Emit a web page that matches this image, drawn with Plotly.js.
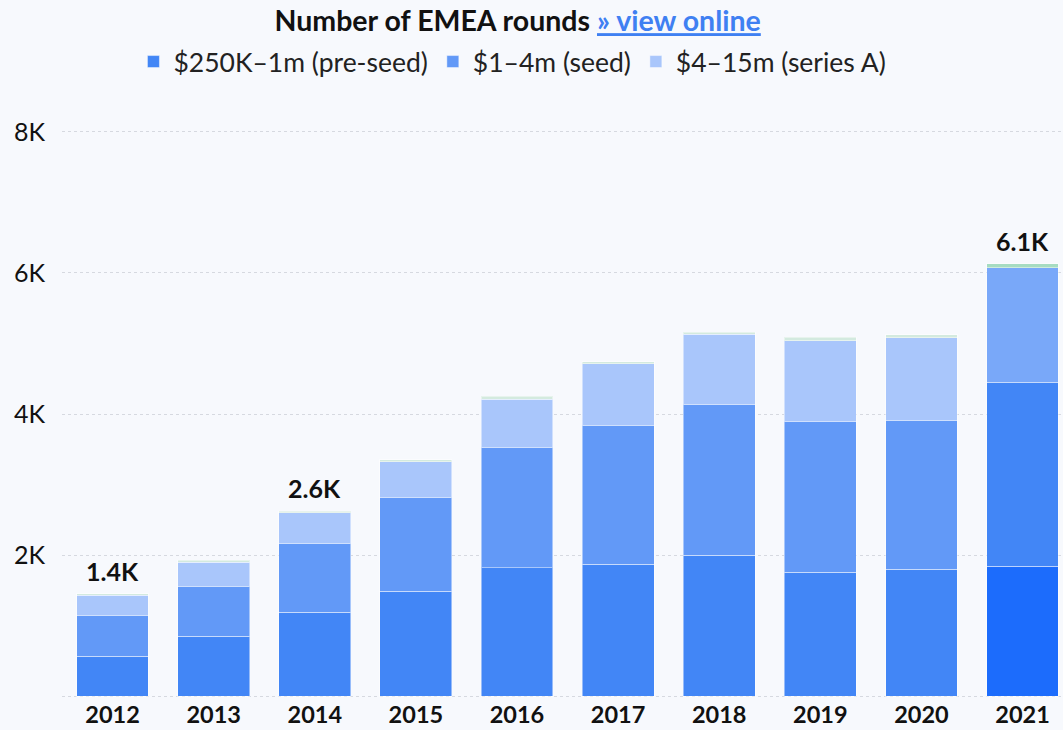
<!DOCTYPE html>
<html>
<head>
<meta charset="utf-8">
<script src="https://cdn.plot.ly/plotly-3.0.1.min.js"></script>
<style>html,body{margin:0;padding:0;background:#f7f9fd;}#chart{width:1063px;height:730px;}</style>
</head>
<body>
<div id="chart"></div>
<script>
const years = ['2012','2013','2014','2015','2016','2017','2018','2019','2020','2021'];
const preSeed = [570, 850, 1190, 1490, 1820, 1870, 2000, 1760, 1800, 1840];
const seed = [580, 710, 970, 1330, 1710, 1970, 2130, 2130, 2110, 2610];
const seriesA = [280, 340, 440, 500, 680, 870, 1000, 1150, 1170, 1620];
const other = [20, 25, 25, 30, 45, 30, 30, 50, 40, 60];
const seriesNames = ['$250K–1m (pre-seed)', '$1–4m (seed)', '$4–15m (series A)'];
const labelYears = ['2012', '2014', '2021'];
const yTicks = [0, 2000, 4000, 6000, 8000];
const yTickText = ['', '2K', '4K', '6K', '8K'];

const font = 'Lato, "Noto Sans", sans-serif';
const hi = years.length - 1;
function cols(base, highlight) {
  return years.map((y, i) => i === hi ? highlight : base);
}
const line = {color: 'rgba(255,255,255,0.45)', width: 1};
const traces = [
  {name: seriesNames[0], y: preSeed, color: cols('#4286f6', '#1c6cfc')},
  {name: seriesNames[1], y: seed, color: cols('#6299f7', '#4286f6')},
  {name: seriesNames[2], y: seriesA, color: cols('#a9c6fb', '#79a8f9')},
  {name: 'other', y: other, color: cols('#d3eadf', '#a6dcc2'), showlegend: false}
].map(t => ({
  type: 'bar', x: years, y: t.y, name: t.name,
  showlegend: t.showlegend !== false,
  marker: {color: t.color, line: line},
  hoverinfo: 'x+y+name'
}));

const totals = years.map((y, i) => preSeed[i] + seed[i] + seriesA[i] + other[i]);
const annotations = [];
years.forEach((yr, i) => {
  if (labelYears.indexOf(yr) >= 0) {
    annotations.push({
      xref: 'x', yref: 'y', x: i, y: totals[i],
      text: '<b>' + (totals[i] / 1000).toFixed(1) + 'K</b>',
      showarrow: false, yanchor: 'bottom', yshift: 6,
      font: {family: font, size: 25, color: '#111'}
    });
  }
});

const layout = {
  width: 1063, height: 730,
  paper_bgcolor: '#f7f9fd', plot_bgcolor: '#f7f9fd',
  margin: {l: 62, r: 0, t: 130, b: 32},
  barmode: 'stack', bargap: 0.29,
  font: {family: font, color: '#111'},
  title: {
    text: '<b>Number of EMEA rounds <span style="color:#3f80f2"><u>» view online</u></span></b>',
    x: 0.487, xanchor: 'center', y: 0.971, yanchor: 'middle',
    font: {family: font, size: 28.5, color: '#111'}
  },
  legend: {
    orientation: 'h', x: 0.45, xanchor: 'center', y: 1.12, yanchor: 'middle',
    font: {family: font, size: 26.5, color: '#222'}, bgcolor: 'rgba(0,0,0,0)',
    traceorder: 'normal'
  },
  xaxis: {
    type: 'category', range: [-0.5, 9.4], showgrid: false, zeroline: false,
    showline: false, ticks: '', ticklabelstandoff: 0,
    tickfont: {family: font, size: 23.5, color: '#111', weight: 'bold'}
  },
  yaxis: {
    range: [-25, 8025], tickvals: yTicks, ticktext: yTickText,
    showgrid: true, gridcolor: '#d6d9e0', griddash: 'dot', gridwidth: 1,
    zeroline: false, showline: false, ticks: '', ticklabelstandoff: 16,
    tickfont: {family: font, size: 25, color: '#111'}
  },
  annotations: annotations
};

Plotly.newPlot('chart', traces, layout, {displayModeBar: false, staticPlot: true});
</script>
</body>
</html>
